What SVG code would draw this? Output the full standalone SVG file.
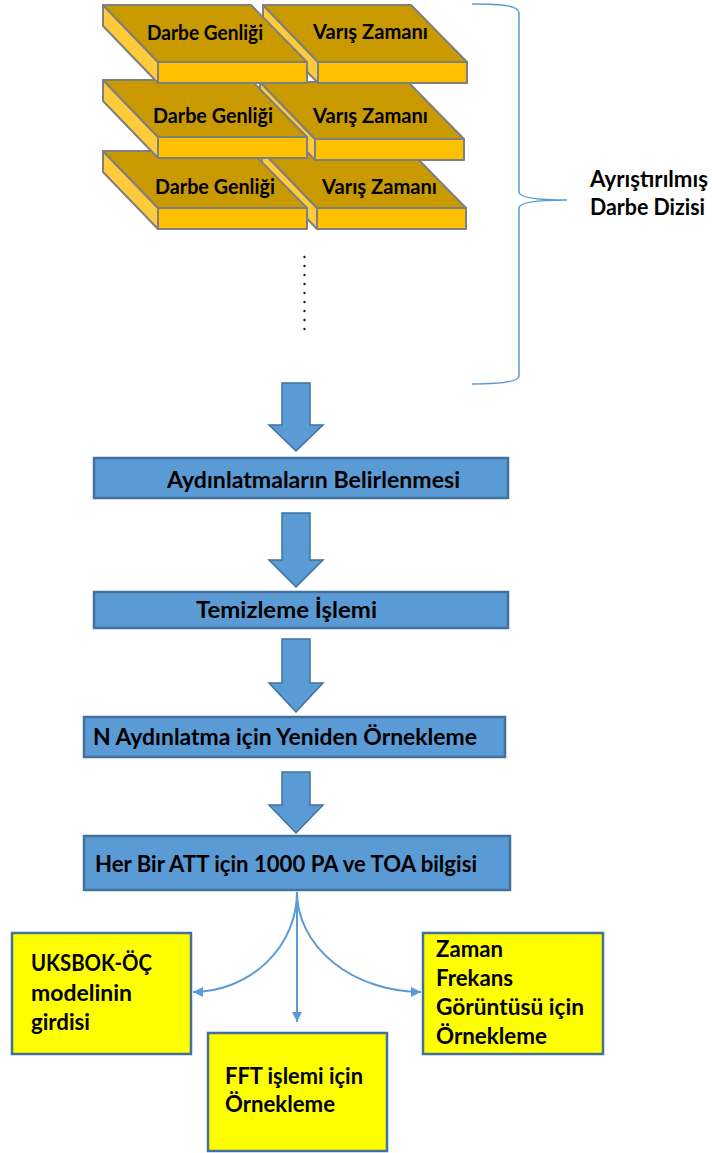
<svg xmlns="http://www.w3.org/2000/svg" width="712" height="1153" viewBox="0 0 712 1153">
  <style>
    .t { font-family: "Lato", "Liberation Sans", sans-serif; font-weight: bold; fill: #000; }
    .s16 { font-size: 21px; }
    .s20 { font-size: 22px; }
    .top { fill: #C99A00; stroke: #7F7F7F; stroke-width: 2; stroke-linejoin: round; }
    .front { fill: #FFC000; stroke: #7F7F7F; stroke-width: 2; stroke-linejoin: round; }
    .side { fill: #FFCB3A; stroke: #7F7F7F; stroke-width: 2; stroke-linejoin: round; }
    .step { fill: #5B9BD5; stroke: #41719C; stroke-width: 2.5; }
    .out { fill: #FFFF00; stroke: #41719C; stroke-width: 2.5; }
    .blk { fill: #5B9BD5; stroke: #41719C; stroke-width: 1.5; stroke-linejoin: miter; }
    .ln { fill: none; stroke: #5B9BD5; stroke-width: 2; }
    .dot { fill: #1F1F1F; }
  </style>
  <defs>
    <!-- slab: top face, left side face and front face; origin at top-left corner of top face -->
    <g id="slab">
      <polygon class="side" points="0,0 55,57 55,78 0,21"/>
      <polygon class="front" points="55,57 204,57 204,78 55,78"/>
      <polygon class="top" points="0,0 148,0 204,57 55,57"/>
    </g>
    <marker id="ah" markerUnits="userSpaceOnUse" markerWidth="12" markerHeight="12" refX="10" refY="5" orient="auto">
      <path d="M0,0 L10,5 L0,10 z" fill="#5B9BD5"/>
    </marker>
  </defs>

  <!-- pulse records, bottom row first so upper rows overlap -->
  <g id="pulse-row-3">
    <use href="#slab" x="262" y="151"/>
    <use href="#slab" x="103" y="151"/>
    <text class="t s16" x="155" y="194" textLength="120" lengthAdjust="spacingAndGlyphs">Darbe Genliği</text>
    <text class="t s16" x="322" y="194" textLength="115" lengthAdjust="spacingAndGlyphs">Varış Zamanı</text>
  </g>
  <g id="pulse-row-2">
    <use href="#slab" x="260" y="82"/>
    <use href="#slab" x="103" y="80"/>
    <text class="t s16" x="153" y="123" textLength="120" lengthAdjust="spacingAndGlyphs">Darbe Genliği</text>
    <text class="t s16" x="313" y="123" textLength="115" lengthAdjust="spacingAndGlyphs">Varış Zamanı</text>
  </g>
  <g id="pulse-row-1">
    <use href="#slab" x="263" y="5"/>
    <use href="#slab" x="103" y="5"/>
    <text class="t s16" x="147" y="40" textLength="116" lengthAdjust="spacingAndGlyphs">Darbe Genliği</text>
    <text class="t s16" x="313" y="39" textLength="115" lengthAdjust="spacingAndGlyphs">Varış Zamanı</text>
  </g>

  <g id="ellipsis">
    <circle class="dot" cx="304.5" cy="257" r="1.2"/>
    <circle class="dot" cx="304.5" cy="266" r="1.2"/>
    <circle class="dot" cx="304.5" cy="275" r="1.2"/>
    <circle class="dot" cx="304.5" cy="284" r="1.2"/>
    <circle class="dot" cx="304.5" cy="293" r="1.2"/>
    <circle class="dot" cx="304.5" cy="302" r="1.2"/>
    <circle class="dot" cx="304.5" cy="311" r="1.2"/>
    <circle class="dot" cx="304.5" cy="320" r="1.2"/>
    <circle class="dot" cx="304.5" cy="329" r="1.2"/>
  </g>

  <g id="brace">
    <path d="M472,4 C505,4 519,6 519,13 L519,192 C519,198 540,200 567,200 C540,200 519,202 519,208 L519,376 C519,381 505,384 472,384" fill="none" stroke="#5B9BD5" stroke-width="1.5"/>
    <text class="t s20" x="590" y="187" textLength="118" lengthAdjust="spacingAndGlyphs">Ayrıştırılmış</text>
    <text class="t s20" x="590" y="215" textLength="115" lengthAdjust="spacingAndGlyphs">Darbe Dizisi</text>
  </g>

  <g id="connectors">
    <polygon class="blk" points="282,383 310,383 310,425 323,425 296,451 269,425 282,425"/>
    <polygon class="blk" points="282,513 310,513 310,560 323,560 296,587 269,560 282,560"/>
    <polygon class="blk" points="282,639 310,639 310,683 323,683 296,712 269,683 282,683"/>
    <polygon class="blk" points="282,772 310,772 310,805 323,805 296,833 269,805 282,805"/>
    <path class="ln" d="M297,892 A105,100 0 0 1 193,992" marker-end="url(#ah)"/>
    <path class="ln" d="M297,892 L297,1022" marker-end="url(#ah)"/>
    <path class="ln" d="M297,892 A125,100 0 0 0 421,992" marker-end="url(#ah)"/>
  </g>

  <g id="step-illuminations">
    <rect class="step" x="94" y="458" width="414" height="40"/>
    <text class="t s20" x="167" y="488" textLength="293" lengthAdjust="spacingAndGlyphs">Aydınlatmaların Belirlenmesi</text>
  </g>
  <g id="step-cleaning">
    <rect class="step" x="94" y="592" width="414" height="36"/>
    <text class="t s20" x="196" y="618" textLength="181" lengthAdjust="spacingAndGlyphs">Temizleme İşlemi</text>
  </g>
  <g id="step-resampling">
    <rect class="step" x="84" y="717" width="421" height="40"/>
    <text class="t s20" x="93" y="745" textLength="384" lengthAdjust="spacingAndGlyphs">N Aydınlatma için Yeniden Örnekleme</text>
  </g>
  <g id="step-samples">
    <rect class="step" x="84" y="836" width="426" height="54"/>
    <text class="t s20" x="95" y="872" textLength="382" lengthAdjust="spacingAndGlyphs">Her Bir ATT için 1000 PA ve TOA bilgisi</text>
  </g>

  <g id="out-model">
    <rect class="out" x="12" y="933" width="179" height="121"/>
    <text class="t s20" x="31" y="971" textLength="121" lengthAdjust="spacingAndGlyphs">UKSBOK-ÖÇ</text>
    <text class="t s20" x="31" y="1001" textLength="101" lengthAdjust="spacingAndGlyphs">modelinin</text>
    <text class="t s20" x="31" y="1030" textLength="59" lengthAdjust="spacingAndGlyphs">girdisi</text>
  </g>
  <g id="out-fft">
    <rect class="out" x="208" y="1033" width="179" height="118"/>
    <text class="t s20" x="225" y="1084" textLength="138" lengthAdjust="spacingAndGlyphs">FFT işlemi için</text>
    <text class="t s20" x="225" y="1112" textLength="110" lengthAdjust="spacingAndGlyphs">Örnekleme</text>
  </g>
  <g id="out-tf">
    <rect class="out" x="423" y="933" width="180" height="121"/>
    <text class="t s20" x="436" y="957" textLength="67" lengthAdjust="spacingAndGlyphs">Zaman</text>
    <text class="t s20" x="436" y="986" textLength="77" lengthAdjust="spacingAndGlyphs">Frekans</text>
    <text class="t s20" x="436" y="1015" textLength="148" lengthAdjust="spacingAndGlyphs">Görüntüsü için</text>
    <text class="t s20" x="436" y="1044" textLength="111" lengthAdjust="spacingAndGlyphs">Örnekleme</text>
  </g>
</svg>
